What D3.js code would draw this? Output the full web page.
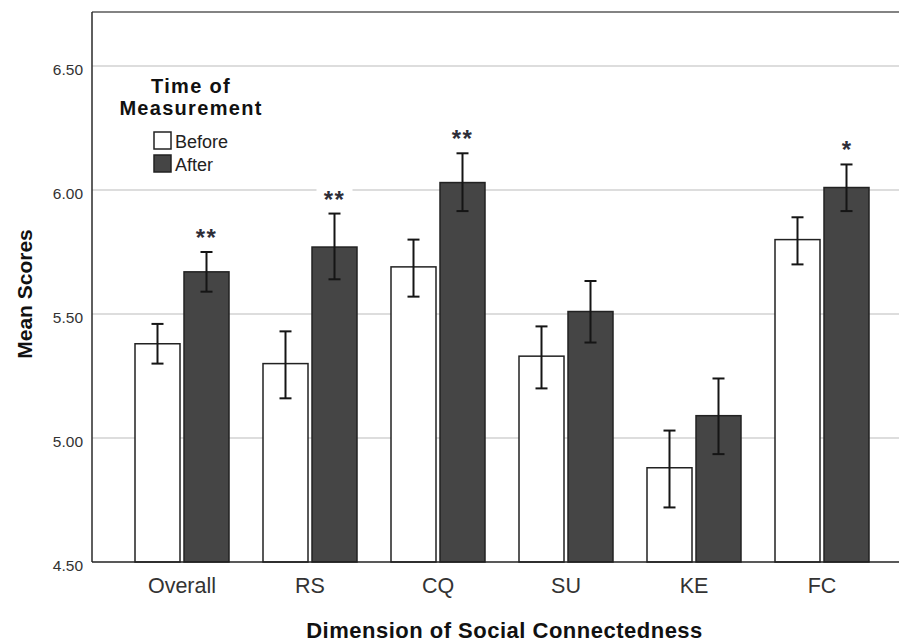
<!DOCTYPE html>
<html>
<head>
<meta charset="utf-8">
<script src="https://cdn.jsdelivr.net/npm/d3@7"></script>
<style>
  html, body { margin: 0; padding: 0; background: #fff; }
  svg { display: block; font-family: "Liberation Sans", Arial, sans-serif; }
</style>
</head>
<body>
<svg id="chart" width="899" height="643"></svg>
<script>
// ---- data ----
const categories = ["Overall", "RS", "CQ", "SU", "KE", "FC"];
const seriesNames = ["Before", "After"];
const beforeMeans = [5.38, 5.30, 5.69, 5.33, 4.88, 5.80];
const beforeLow   = [5.30, 5.16, 5.57, 5.20, 4.72, 5.70];
const beforeHigh  = [5.46, 5.43, 5.80, 5.45, 5.03, 5.89];
const afterMeans  = [5.67, 5.77, 6.03, 5.51, 5.09, 6.01];
const afterLow    = [5.59, 5.64, 5.915, 5.385, 4.935, 5.915];
const afterHigh   = [5.75, 5.905, 6.148, 5.633, 5.24, 6.103];
const significance = ["**", "**", "**", "", "", "*"];
const yTicks = [4.5, 5.0, 5.5, 6.0, 6.5];
const yTickLabels = ["4.50", "5.00", "5.50", "6.00", "6.50"];
const xTitle = "Dimension of Social Connectedness";
const yTitle = "Mean Scores";
const legendTitle = ["Time of", "Measurement"];

// ---- layout ----
const svg = d3.select("#chart");
const plotLeft = 92, plotRight = 911, plotTop = 12, plotBottom = 562;

const y = d3.scaleLinear().domain([4.5, 6.5]).range([562, 66]);
const x = d3.scaleBand().domain(categories).range([118, 886]).padding(0);
const xInner = d3.scaleBand().domain(seriesNames).range([0, 94]).paddingInner(4 / 49).paddingOuter(0);

const rows = categories.map((c, i) => ({
  cat: c,
  sig: significance[i],
  bars: [
    { s: "Before", m: beforeMeans[i], lo: beforeLow[i], hi: beforeHigh[i] },
    { s: "After",  m: afterMeans[i],  lo: afterLow[i],  hi: afterHigh[i] }
  ]
}));
const groupX = c => x(c) + x.bandwidth() / 2 - 47;

// gridlines
svg.append("g").selectAll("line")
  .data(yTicks.filter(t => t > 4.5))
  .join("line")
  .attr("x1", plotLeft).attr("x2", plotRight)
  .attr("y1", d => y(d)).attr("y2", d => y(d))
  .attr("stroke", "#d2d2d2").attr("stroke-width", 1.5);

// top frame line
svg.append("line")
  .attr("x1", plotLeft).attr("x2", plotRight)
  .attr("y1", plotTop).attr("y2", plotTop)
  .attr("stroke", "#5a5a5a").attr("stroke-width", 1.5);
svg.append("line")
  .attr("x1", plotRight).attr("x2", plotRight)
  .attr("y1", plotTop).attr("y2", plotBottom)
  .attr("stroke", "#5a5a5a").attr("stroke-width", 1.5);

// bars
const groups = svg.append("g").selectAll("g")
  .data(rows).join("g")
  .attr("transform", d => `translate(${groupX(d.cat)},0)`);

groups.selectAll("rect")
  .data(d => d.bars).join("rect")
  .attr("x", d => xInner(d.s))
  .attr("width", xInner.bandwidth())
  .attr("y", d => y(d.m))
  .attr("height", d => y(4.5) - y(d.m))
  .attr("fill", d => d.s === "Before" ? "#ffffff" : "#454545")
  .attr("stroke", "#222")
  .attr("stroke-width", 1.5);

// error bars
const eb = groups.selectAll("g.err")
  .data(d => d.bars).join("g").attr("class", "err")
  .attr("stroke", "#151515").attr("stroke-width", 2);
const cx = d => xInner(d.s) + xInner.bandwidth() / 2;
eb.append("line").attr("x1", cx).attr("x2", cx).attr("y1", d => y(d.lo)).attr("y2", d => y(d.hi));
eb.append("line").attr("x1", d => cx(d) - 6).attr("x2", d => cx(d) + 6).attr("y1", d => y(d.lo)).attr("y2", d => y(d.lo));
eb.append("line").attr("x1", d => cx(d) - 6).attr("x2", d => cx(d) + 6).attr("y1", d => y(d.hi)).attr("y2", d => y(d.hi));

// significance labels
const sigG = groups.filter(d => d.sig !== "").append("g")
  .attr("transform", d => `translate(${xInner("After") + xInner.bandwidth() / 2},${y(d.bars[1].hi) - 6})`);
sigG.append("rect")
  .attr("x", -18).attr("width", 36).attr("y", -19).attr("height", 13)
  .attr("fill", "#fff");
sigG.append("text")
  .attr("text-anchor", "middle")
  .attr("font-size", 24)
  .attr("font-weight", "bold")
  .attr("letter-spacing", d => d.sig.length > 1 ? 1.5 : 0)
  .attr("fill", "#2e2e38")
  .text(d => d.sig);

// axes lines
svg.append("line")
  .attr("x1", plotLeft).attr("x2", plotLeft)
  .attr("y1", plotTop).attr("y2", plotBottom)
  .attr("stroke", "#2a2a2a").attr("stroke-width", 1.5);
svg.append("line")
  .attr("x1", plotLeft).attr("x2", plotRight)
  .attr("y1", plotBottom).attr("y2", plotBottom)
  .attr("stroke", "#222").attr("stroke-width", 1.5);

// y tick labels
svg.append("g").selectAll("text")
  .data(yTicks).join("text")
  .attr("x", 83)
  .attr("y", d => y(d) + 9)
  .attr("text-anchor", "end")
  .attr("font-size", 15.5)
  .attr("fill", "#333")
  .text((d, i) => yTickLabels[i]);

// x tick labels
svg.append("g").selectAll("text")
  .data(categories).join("text")
  .attr("x", d => x(d) + x.bandwidth() / 2)
  .attr("y", 593)
  .attr("text-anchor", "middle")
  .attr("font-size", 21.5)
  .attr("fill", "#333")
  .text(d => d);

// axis titles
svg.append("text")
  .attr("x", (plotLeft + plotRight) / 2 + 3)
  .attr("y", 638)
  .attr("text-anchor", "middle")
  .attr("font-size", 22)
  .attr("font-weight", "bold")
  .attr("letter-spacing", 0.5)
  .attr("fill", "#111")
  .text(xTitle);

svg.append("text")
  .attr("transform", "translate(32,294) rotate(-90)")
  .attr("text-anchor", "middle")
  .attr("font-size", 21)
  .attr("font-weight", "bold")
  .attr("fill", "#111")
  .text(yTitle);

// legend
const lg = svg.append("g");
lg.selectAll("text.title")
  .data(legendTitle).join("text").attr("class", "title")
  .attr("x", 191)
  .attr("y", (d, i) => 93 + i * 22)
  .attr("text-anchor", "middle")
  .attr("font-size", 20)
  .attr("font-weight", "bold")
  .attr("letter-spacing", 1.3)
  .attr("fill", "#111")
  .text(d => d);

const items = lg.selectAll("g.item")
  .data(seriesNames).join("g").attr("class", "item")
  .attr("transform", (d, i) => `translate(154,${132 + i * 23})`);
items.append("rect")
  .attr("width", 17).attr("height", 17)
  .attr("fill", d => d === "Before" ? "#fff" : "#454545")
  .attr("stroke", "#222").attr("stroke-width", 1.5);
items.append("text")
  .attr("x", 21).attr("y", 16)
  .attr("font-size", 18)
  .attr("fill", "#222")
  .text(d => d);
</script>
</body>
</html>
